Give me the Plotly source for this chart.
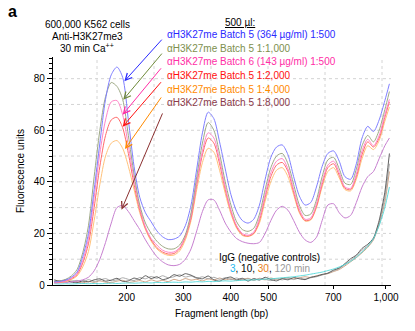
import plotly.graph_objects as go

# Bioanalyzer migration-time grid (arbitrary time units) and ladder calibration
migration_time = [2.5, 3.5, 4.5, 5.5, 6.5, 7.5, 8.5, 9.5, 10.5, 11.5, 12.5, 13.5, 14.5, 15.5, 16.5,
                  17.5, 18.5, 19.5, 20.5, 21.5, 22.5, 23.5, 24.5, 25.5, 26.5, 27.5, 28.5, 29.5, 30.5,
                  31.5, 32.5, 33.5, 34.5, 35.5, 36.5, 37.5, 38.5, 39.5, 40.5, 41.5, 42.5, 43.5, 44.5,
                  45.5, 46.5, 47.5, 48.5, 49.5, 50.5, 51.5, 52.5, 53.5, 54.5, 55.5, 56.5, 57.5, 58.5,
                  59.5, 60.5, 61.3]
ladder_bp = ["200", "300", "400", "500", "700", "1,000"]
ladder_time = [15.21, 25.14, 33.46, 40.12, 51.46, 60.70]
y_ticks = [0, 20, 40, 60, 80]

b5_1_500 = [1.2, 1.4, 1.9, 3.0, 5.0, 11, 20, 37, 55, 72, 81.5, 84.5, 80.5, 64, 46, 34, 28, 24.5, 21, 18.7,
            17.6, 17.8, 19, 23, 31, 45, 59, 67, 64.5, 55.5, 45, 35, 28.5, 25, 24, 25.5, 31, 41, 49.5, 53.5,
            54.3, 50.5, 42, 34.5, 31, 32, 38, 46, 51, 52, 48, 42, 41, 47, 57, 61.5, 59.5, 64, 71.5, 78]
b5_1_1000 = [1.3, 1.6, 2.2, 3.5, 6, 12.5, 23, 42, 60, 73, 78.5, 77, 72, 58, 43, 31, 24, 20, 17, 15,
             14, 14, 15.5, 19.5, 28, 42, 55, 63, 60, 51, 40, 31, 24.5, 21.5, 20.8, 22, 27.5, 37, 45.5, 50,
             51, 47, 39, 31, 27, 27.5, 33, 42, 48.5, 49.5, 45, 39.5, 39, 45, 54, 58, 55.5, 60, 68, 75]
b6_1_500 = [1.0, 1.2, 1.6, 2.6, 4.5, 9.5, 18, 34, 51, 64, 71, 71.5, 66, 54, 41, 30, 22.5, 18, 15.5, 13.5,
            12.7, 12.8, 14.5, 19, 27, 40, 52, 59, 57, 48.5, 38, 29, 23, 20, 19.3, 20.5, 26, 35, 43.5, 48,
            49, 45, 37, 29.5, 25.5, 26, 31.5, 40, 46.5, 48, 43.5, 38, 37.5, 43, 52, 56.5, 54, 58, 66, 72]
b5_1_2000 = [1.0, 1.1, 1.5, 2.4, 4, 8.5, 16, 30, 46, 58, 64, 65, 61, 51, 39, 29, 22, 17.5, 14.5, 12.8,
             12, 12.2, 14, 18.5, 26, 39, 50.5, 57, 55, 47, 37, 28.5, 22.5, 19.5, 19, 20, 25, 34, 42, 46.5,
             47.5, 44, 36, 28.5, 25, 25.5, 30.5, 39, 45.5, 47, 42.5, 37.5, 37, 42, 50.5, 55.5, 53.5, 57, 65, 71]
b5_1_4000 = [0.9, 1.0, 1.3, 2.1, 3.5, 7, 13, 25, 39, 50, 55, 56, 53, 46, 37, 28, 21.5, 17, 14, 12.3,
             11.5, 11.6, 13.2, 17.5, 25, 37, 47.5, 53, 51.5, 44.5, 35.5, 27.5, 22, 19.2, 18.8, 19.8, 24, 32.5, 40, 44.5,
             45.5, 42, 35, 28, 24.8, 25.2, 30, 38, 44, 45.5, 41.5, 37, 36.5, 41, 49, 54, 52.5, 56, 63.5, 69]
b5_1_8000 = [0.8, 0.9, 1.0, 1.2, 1.5, 2.0, 3.0, 5.5, 10, 16.5, 24, 30, 30.8, 28.5, 25, 21.5, 17.5, 14, 11, 9,
             7.8, 7.5, 8, 10, 14, 21, 28.5, 33, 33, 29, 24, 20.5, 18, 16.8, 16.2, 16, 16.5, 20, 25, 29,
             30.5, 29, 25, 20.5, 17.5, 16.5, 18.5, 25, 31, 31.5, 28, 26, 27, 32, 38, 42, 44, 49, 54, 57]

igg_3min = [0.5, 0.4, 0.5, 0.4, 0.5, 0.6, 0.5, 0.6, 0.5, 0.6, 0.7, 0.6, 0.7, 0.8, 0.7, 0.8, 0.9, 0.8, 1.0, 0.9,
            1.0, 1.1, 1.0, 1.2, 1.1, 1.3, 1.2, 1.4, 1.3, 1.5, 1.6, 1.5, 1.7, 1.8, 1.9, 2.0, 2.1, 2.3, 2.4, 2.6,
            2.8, 3.0, 3.2, 3.5, 3.8, 4.2, 4.6, 5.0, 5.6, 6.2, 7.0, 8.0, 9.2, 10.8, 12.8, 15, 18, 23, 30, 38]
igg_10min = [2.0, 1.4, 1.9, 1.1, 0.9, 1.6, 1.2, 2.0, 2.4, 1.5, 1.9, 2.6, 1.4, 1.6, 2.7, 2.1, 3.6, 2.5, 3.2, 2.1,
             2.6, 4.0, 3.4, 4.4, 3.8, 2.8, 2.4, 3.5, 2.0, 1.5, 2.6, 3.1, 2.0, 2.6, 1.5, 2.5, 1.9, 3.0, 2.1, 1.6,
             2.5, 2.0, 2.9, 2.4, 2.1, 3.0, 3.4, 4.1, 4.6, 5.8, 6.6, 8.3, 10.2, 11.6, 14.2, 15.8, 18.2, 25, 36, 51]
igg_30min = [1.2, 1.8, 1.0, 1.5, 1.3, 0.8, 1.4, 1.0, 1.6, 1.1, 0.9, 1.5, 1.8, 1.0, 1.3, 1.7, 1.2, 2.0, 1.4, 1.8,
             1.3, 2.2, 1.7, 2.5, 1.9, 2.2, 1.6, 2.4, 1.9, 2.7, 2.0, 2.4, 1.7, 2.2, 2.6, 1.9, 2.4, 2.0, 2.7, 2.2,
             2.5, 2.9, 2.4, 2.8, 3.2, 2.9, 3.6, 4.0, 4.4, 5.2, 6.0, 7.4, 9.0, 10.6, 12.5, 14.6, 17.5, 23.5, 32, 44]
igg_120min = [1.6, 1.2, 2.0, 1.5, 1.8, 1.2, 2.1, 1.4, 1.9, 2.5, 1.6, 2.0, 2.8, 2.2, 1.7, 2.9, 2.4, 3.3, 2.6, 3.6,
              2.8, 3.2, 4.0, 3.1, 3.5, 2.6, 3.2, 2.4, 3.0, 2.2, 2.8, 2.1, 2.7, 2.0, 2.4, 1.8, 2.6, 2.2, 1.7, 2.4,
              2.0, 2.6, 2.1, 2.7, 2.3, 2.8, 3.2, 3.9, 4.5, 5.5, 6.4, 7.9, 9.6, 11.2, 13.5, 15.2, 17.8, 24, 34, 47]

series_labels = ["αH3K27me Batch 5 (364 µg/ml) 1:500", "αH3K27me Batch 5 1:1,000",
                 "αH3K27me Batch 6 (143 µg/ml) 1:500", "αH3K27me Batch 5 1:2,000",
                 "αH3K27me Batch 5 1:4,000", "αH3K27me Batch 5 1:8,000"]

FONT = "Liberation Sans, Arial, Helvetica, sans-serif"
L, R, T, B = 53, 24, 57, 46
W, H = 415, 331
PW, PH = W - L - R, H - T - B


def px(x):
    return (x - L) / PW


def py(y):
    return (H - B - y) / PH


def label(text, x, y, color="black", size=10, xanchor="center", **kw):
    return dict(text=text, x=px(x), y=py(y), xref="paper", yref="paper", xanchor=xanchor,
                yanchor="middle", showarrow=False, font=dict(size=size, color=color, family=FONT), **kw)


fig = go.Figure()

igg = [(igg_30min, "#c89a78"), (igg_120min, "#a0a0a0"), (igg_10min, "#505050"), (igg_3min, "#4fd8d8")]
for vals, col in igg:
    fig.add_trace(go.Scatter(x=migration_time, y=vals, mode="lines",
                             line=dict(color=col, width=0.9, shape="spline", smoothing=0.6),
                             hoverinfo="skip"))

curves = [(b5_1_8000, "#c77fd0"), (b5_1_4000, "#ffc27a"), (b5_1_2000, "#ff6a6a"),
          (b6_1_500, "#ff85c8"), (b5_1_1000, "#9ea985"), (b5_1_500, "#7f7fff")]
for vals, col in curves:
    fig.add_trace(go.Scatter(x=migration_time, y=vals, mode="lines",
                             line=dict(color=col, width=1, shape="spline", smoothing=0.8),
                             hoverinfo="skip"))

shapes = []
for g in [10, 20, 30, 40, 50, 60, 70, 80]:
    shapes.append(dict(type="line", xref="paper", yref="y", x0=0, x1=1, y0=g, y1=g,
                       line=dict(color="#d4d4d4", width=1, dash="dot"), layer="below"))
for g in [10, 20, 30, 40, 50, 60]:
    shapes.append(dict(type="line", xref="x", yref="paper", x0=g, x1=g, y0=0, y1=1,
                       line=dict(color="#d4d4d4", width=1, dash="dot"), layer="below"))

text_cols = ["#2a2aff", "#7d8f4e", "#ff2ea6", "#ff1010", "#ff8a00", "#8b3a4a"]
arrow_cols = ["#2a2aff", "#6f8a3a", "#ff2ea6", "#ff1010", "#ff8a00", "#8b3030"]
text_y = [35, 48.5, 62, 75.5, 89, 102.5]
tips = [(14.8, 79.0), (14.6, 71.8), (14.5, 66.0), (14.5, 61.4), (14.9, 52.7), (14.3, 29.2)]
tails = [(21.6, 95.7), (21.6, 90.3), (21.45, 84.6), (21.45, 79.2), (21.45, 73.3), (21.6, 67.1)]

ann = []
ann.append(label("<b>a</b>", 12, 12, size=16))
for i, line in enumerate(["600,000 K562 cells", "Anti-H3K27me3", "30 min Ca<sup>++</sup>"]):
    ann.append(label(line, 87, 24 + 12 * i))
ann.append(label("<u>500 µl:</u>", 240, 23))
for lab, col, ty in zip(series_labels, text_cols, text_y):
    ann.append(label(lab, 165, ty, color=col, xanchor="left"))
for (tx, ty), (ax, ay), col in zip(tips, tails, arrow_cols):
    ann.append(dict(text="", x=tx, y=ty, xref="x", yref="y", ax=ax, ay=ay, axref="x", ayref="y",
                    showarrow=True, arrowhead=5, arrowsize=1.3, arrowwidth=1, arrowcolor=col,
                    standoff=0, startstandoff=0))
ann.append(label("IgG (negative controls)", 269, 257))
ann.append(label("<span style='color:#22b8f0'>3</span>, 10, <span style='color:#e8801a'>30</span>, "
                 "<span style='color:#9a9a9a'>120 min</span>", 269.5, 268.5))
ann.append(label("Fluorescence units", 20, 171, textangle=-90))
ann.append(label("Fragment length (bp)", 221, 313))

fig.update_layout(
    width=W, height=H, margin=dict(l=L, r=R, t=T, b=B),
    paper_bgcolor="white", plot_bgcolor="white", showlegend=False,
    font=dict(family=FONT, size=10, color="black"),
    shapes=shapes, annotations=ann,
    xaxis=dict(range=[(53 - 40) / 5.7, (391 - 40) / 5.7], tickvals=ladder_time, ticktext=ladder_bp,
               showgrid=False, zeroline=False, showline=True, linecolor="black", linewidth=1.3,
               ticks="outside", ticklen=3, tickwidth=1, tickcolor="black",
               tickfont=dict(size=10, family=FONT)),
    yaxis=dict(range=[0, 88.4], tickvals=y_ticks, showgrid=False, zeroline=False, showline=True,
               linecolor="black", linewidth=1.3, ticks="outside", ticklen=5, tickwidth=1,
               tickcolor="black", tickfont=dict(size=10, family=FONT),
               minor=dict(dtick=2, tick0=0, ticks="outside", ticklen=2.5, tickwidth=1,
                          tickcolor="black", showgrid=False)),
)

fig.write_html("out.html")
